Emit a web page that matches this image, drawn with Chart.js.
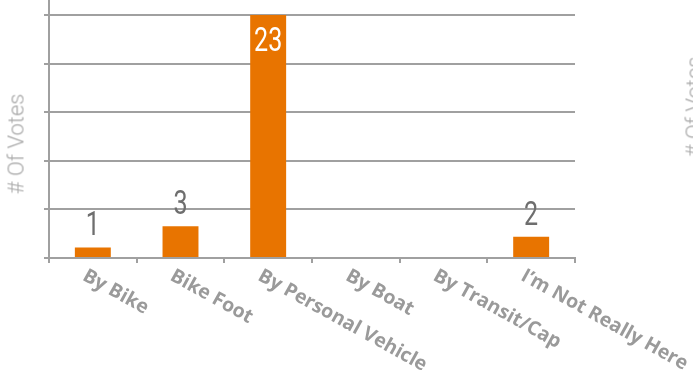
<!DOCTYPE html>
<html lang="en">
<head>
<meta charset="UTF-8">
<title>Votes</title>
<script src="https://cdn.jsdelivr.net/npm/chart.js"></script>
<style>
  html, body { margin: 0; padding: 0; background: #fff; overflow: hidden; }
  .wrap { position: relative; width: 693px; height: 370px; overflow: hidden; }
  .eixo-titulo {
    position: absolute;
    font-family: Roboto, "DejaVu Sans", sans-serif;
    font-weight: 300;
    font-size: 22px;
    color: #a8a8a8;
    white-space: nowrap;
    transform: translate(-50%, -50%) rotate(-90deg);
  }
</style>
</head>
<body>
<div class="wrap">
  <canvas id="graficoVotos" width="693" height="370"></canvas>
  <div class="eixo-titulo" style="left:16px; top:144px;"># Of Votes</div>
  <div class="eixo-titulo" style="left:694px; top:107px;"># Of Votes</div>
</div>

<script>
// categorias e votos
const categorias = ['By Bike', 'Bike Foot', 'By Personal Vehicle', 'By Boat', 'By Transit/Cap', 'I\u2019m Not Really Here'];
const votos = [1, 3, 23, 0, 0, 2];
// linhas de grade do eixo y (sem rótulos)
const ticksY = [0, 4.6, 9.2, 13.8, 18.4, 23];

const laranja = '#e87400';
const cinzaGrade = '#a0a0a0';

// rótulos com o valor de cada barra
const rotulosValores = {
  id: 'rotulosValores',
  afterDatasetsDraw(chart) {
    const ctx = chart.ctx;
    const meta = chart.getDatasetMeta(0);
    meta.data.forEach(function (barra, i) {
      const valor = votos[i];
      if (!valor) return;
      const dentro = (barra.base - barra.y) > 60;
      ctx.save();
      ctx.font = '400 33px Roboto, sans-serif';
      ctx.textAlign = 'center';
      ctx.translate(barra.x, dentro ? barra.y + 11 : barra.y - 4);
      ctx.scale(0.76, 1);
      ctx.textBaseline = dentro ? 'top' : 'bottom';
      ctx.fillStyle = dentro ? '#ffffff' : '#6e6e6e';
      ctx.fillText(String(valor), 0, 0);
      ctx.restore();
    });
  }
};

// rótulos das categorias inclinados para baixo
const rotulosCategorias = {
  id: 'rotulosCategorias',
  afterDraw(chart) {
    const ctx = chart.ctx;
    const escala = chart.scales.x;
    categorias.forEach(function (nome, i) {
      const x = escala.getPixelForTick(i);
      ctx.save();
      ctx.translate(x - 4, escala.top + 8);
      ctx.rotate(29 * Math.PI / 180);
      ctx.font = 'bold 19.5px "Open Sans", sans-serif';
      ctx.fillStyle = '#9a9a9a';
      ctx.textAlign = 'left';
      ctx.textBaseline = 'top';
      ctx.fillText(nome, 0, 0);
      ctx.restore();
    });
  }
};

const dados = {
  labels: categorias,
  datasets: [{
    label: '# Of Votes',
    data: votos,
    backgroundColor: laranja,
    borderWidth: 0,
    barPercentage: 0.41,
    categoryPercentage: 1
  }]
};

const config = {
  type: 'bar',
  data: dados,
  options: {
    responsive: false,
    animation: false,
    layout: { padding: { top: 0, left: 44, right: 118, bottom: 107 } },
    plugins: {
      legend: { display: false },
      tooltip: { enabled: false }
    },
    scales: {
      x: {
        offset: true,
        grid: {
          offset: true,
          drawOnChartArea: false,
          drawTicks: true,
          tickLength: 5,
          color: cinzaGrade,
          lineWidth: 2
        },
        border: { display: true, color: cinzaGrade, width: 2 },
        ticks: { display: false }
      },
      y: {
        min: 0,
        max: 23 * 258 / 243,
        afterBuildTicks: function (escala) {
          escala.ticks = ticksY.map(function (v) { return { value: v }; });
        },
        grid: {
          color: cinzaGrade,
          lineWidth: 2,
          drawTicks: true,
          tickLength: 5
        },
        border: { display: true, color: cinzaGrade, width: 2 },
        ticks: { display: false }
      }
    }
  },
  plugins: [rotulosValores, rotulosCategorias]
};

new Chart(document.getElementById('graficoVotos'), config);
</script>
</body>
</html>
